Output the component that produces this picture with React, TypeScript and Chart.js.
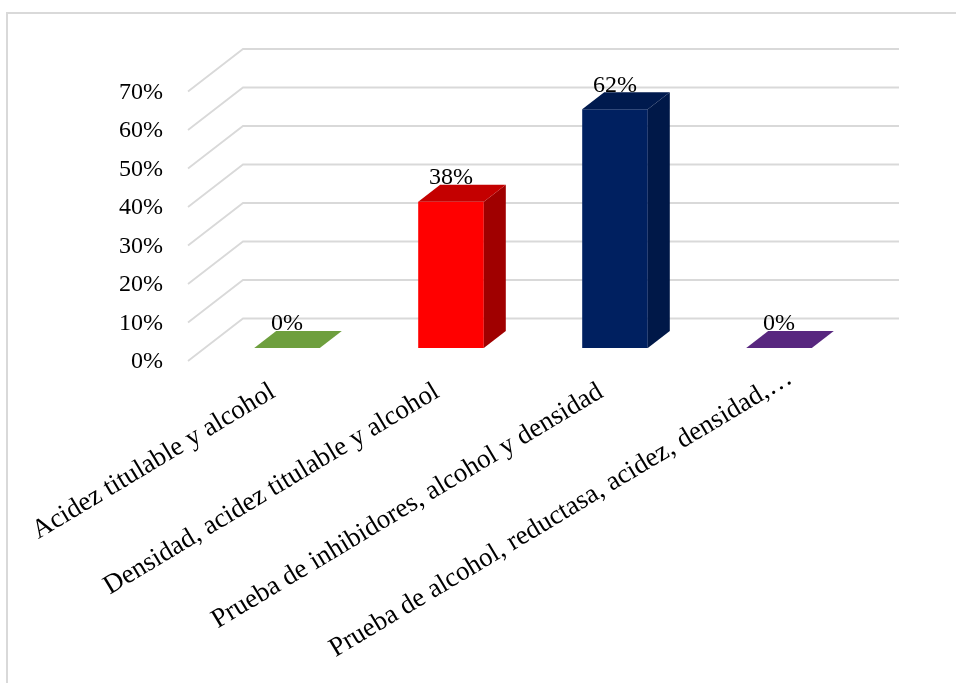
import React, { useEffect, useRef } from 'react';
import { Chart, registerables } from 'chart.js';

Chart.register(...registerables);

const categories = [
  'Acidez titulable y alcohol',
  'Densidad, acidez titulable y alcohol',
  'Prueba de inhibidores, alcohol y densidad',
  'Prueba de alcohol, reductasa, acidez, densidad,…',
];
const values = [0, 0.38, 0.62, 0];
const dataLabels = ['0%', '38%', '62%', '0%'];
const yTickValues = [0, 0.1, 0.2, 0.3, 0.4, 0.5, 0.6, 0.7];
const yTickLabels = ['0%', '10%', '20%', '30%', '40%', '50%', '60%', '70%'];

const frontColors = ['#92D050', '#FF0000', '#002060', '#7030A0'];
const topColors = ['#6E9F3E', '#C40000', '#001A4E', '#58277F'];
const sideColors = ['#669436', '#A00000', '#001848', '#4C2270'];

const FONT = "'Liberation Serif', 'Times New Roman', serif";
const GRID = '#D9D9D9';
// projection offsets (styling)
const FRONT = { dx: -17, dy: 13 };
const BACK = { dx: 38, dy: -29.5 };
const BAR_DEPTH = { dx: 22, dy: -17 };
// extra shift of the truncated last category label (styling)
const LAST_LABEL_SHIFT = { dx: 25, dy: -14 };

const threeD = {
  id: 'threeD',
  beforeDraw(chart: any) {
    const xs = chart.scales.x;
    if (xs && typeof xs.getLabelItems === 'function') {
      const items = xs.getLabelItems();
      const last = items[items.length - 1];
      if (last && last.options && last.options.translation && !last._shifted) {
        last.options.translation = [
          last.options.translation[0] + LAST_LABEL_SHIFT.dx,
          last.options.translation[1] + LAST_LABEL_SHIFT.dy,
        ];
        last._shifted = true;
      }
      xs._labelItems = items;
    }
  },
  beforeDatasetsDraw(chart: any) {
    const { ctx, chartArea, scales } = chart;
    const y = scales.y;
    ctx.save();
    // outer frame
    ctx.strokeStyle = GRID;
    ctx.lineWidth = 2;
    ctx.strokeRect(7, 13, 1200, 1200);
    // back wall and side wall gridlines
    ctx.lineWidth = 1.8;
    ctx.strokeStyle = GRID;
    yTickValues.forEach((v) => {
      const py = y.getPixelForValue(v);
      ctx.beginPath();
      ctx.moveTo(chartArea.left + FRONT.dx, py + FRONT.dy);
      ctx.lineTo(chartArea.left + BACK.dx, py + BACK.dy);
      ctx.lineTo(chartArea.right + BACK.dx, py + BACK.dy);
      ctx.stroke();
    });
    ctx.restore();
  },
  afterDatasetsDraw(chart: any) {
    const { ctx, chartArea, scales } = chart;
    const y = scales.y;
    const meta = chart.getDatasetMeta(0);
    ctx.save();
    meta.data.forEach((el: any, i: number) => {
      const { x, y: top, base, width } = el.getProps(['x', 'y', 'base', 'width'], true);
      const l = x - width / 2;
      const r = x + width / 2;
      if (base - top > 0.5) {
        ctx.fillStyle = sideColors[i];
        ctx.beginPath();
        ctx.moveTo(r, top);
        ctx.lineTo(r + BAR_DEPTH.dx, top + BAR_DEPTH.dy);
        ctx.lineTo(r + BAR_DEPTH.dx, base + BAR_DEPTH.dy);
        ctx.lineTo(r, base);
        ctx.closePath();
        ctx.fill();
      }
      ctx.fillStyle = topColors[i];
      ctx.beginPath();
      ctx.moveTo(l, top);
      ctx.lineTo(r, top);
      ctx.lineTo(r + BAR_DEPTH.dx, top + BAR_DEPTH.dy);
      ctx.lineTo(l + BAR_DEPTH.dx, top + BAR_DEPTH.dy);
      ctx.closePath();
      ctx.fill();
      // data label
      ctx.fillStyle = '#000';
      ctx.font = `24px ${FONT}`;
      ctx.textAlign = 'center';
      ctx.textBaseline = 'middle';
      ctx.fillText(dataLabels[i], x, top - 24);
    });
    // y axis labels on the front plane
    ctx.fillStyle = '#000';
    ctx.font = `24px ${FONT}`;
    ctx.textAlign = 'right';
    ctx.textBaseline = 'middle';
    yTickValues.forEach((v, i) => {
      const py = y.getPixelForValue(v);
      ctx.fillText(yTickLabels[i], chartArea.left - 42, py + 14);
    });
    ctx.restore();
  },
};

export default function App() {
  const ref = useRef<HTMLCanvasElement>(null);
  useEffect(() => {
    if (!ref.current) return;
    const chart = new Chart(ref.current, {
      type: 'bar',
      data: {
        labels: categories,
        datasets: [
          {
            data: values,
            backgroundColor: frontColors,
            borderWidth: 0,
            categoryPercentage: 1,
            barPercentage: 0.4,
          },
        ],
      },
      options: {
        animation: false,
        responsive: false,
        devicePixelRatio: 1,
        layout: { padding: { left: 205, right: 95, top: 78.5, bottom: 0 } },
        plugins: { legend: { display: false }, tooltip: { enabled: false } },
        scales: {
          x: {
            grid: { display: false },
            border: { display: false },
            ticks: {
              autoSkip: false,
              minRotation: 31,
              maxRotation: 31,
              padding: 20,
              labelOffset: -14,
              color: '#000',
              font: { family: FONT, size: 27 },
            },
            afterFit: (scale: any) => {
              scale.height = 335;
              scale.paddingLeft = 0;
              scale.paddingRight = 0;
            },
          },
          y: {
            display: false,
            min: 0,
            max: 0.7,
            ticks: { stepSize: 0.1 },
          },
        },
      },
      plugins: [threeD],
    });
    return () => chart.destroy();
  }, []);
  return (
    <div style={{ position: 'absolute', left: 0, top: 0, width: 956, height: 683, background: '#fff' }}>
      <canvas ref={ref} width={956} height={683} />
    </div>
  );
}
